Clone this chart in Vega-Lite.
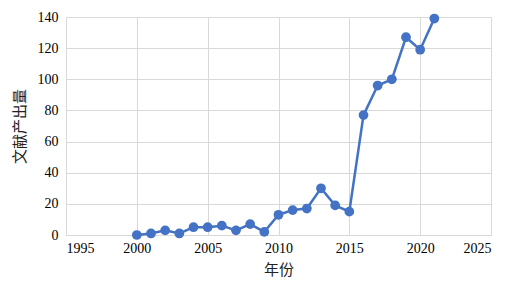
{
  "$schema": "https://vega.github.io/schema/vega-lite/v6.json",
  "autosize": "none",
  "width": 425,
  "height": 218,
  "padding": {"left": 66, "top": 17, "right": 28, "bottom": 54},
  "background": "white",
  "data": {"values": [
    {"year": 2000, "count": 0},
    {"year": 2001, "count": 1},
    {"year": 2002, "count": 3},
    {"year": 2003, "count": 1},
    {"year": 2004, "count": 5},
    {"year": 2005, "count": 5},
    {"year": 2006, "count": 6},
    {"year": 2007, "count": 3},
    {"year": 2008, "count": 7},
    {"year": 2009, "count": 2},
    {"year": 2010, "count": 13},
    {"year": 2011, "count": 16},
    {"year": 2012, "count": 17},
    {"year": 2013, "count": 30},
    {"year": 2014, "count": 19},
    {"year": 2015, "count": 15},
    {"year": 2016, "count": 77},
    {"year": 2017, "count": 96},
    {"year": 2018, "count": 100},
    {"year": 2019, "count": 127},
    {"year": 2020, "count": 119},
    {"year": 2021, "count": 139}
  ]},
  "mark": {"type": "line", "color": "#4472C4", "strokeWidth": 2.5, "point": {"filled": true, "size": 95, "color": "#4472C4", "opacity": 1}},
  "encoding": {
    "x": {"field": "year", "type": "quantitative", "title": "年份",
      "scale": {"domain": [1995, 2025], "nice": false, "zero": false},
      "axis": {"values": [1995, 2000, 2005, 2010, 2015, 2020, 2025], "format": "d", "ticks": false, "labelPadding": 6, "titlePadding": 7}},
    "y": {"field": "count", "type": "quantitative", "title": "文献产出量",
      "scale": {"domain": [0, 140], "nice": false},
      "axis": {"values": [0, 20, 40, 60, 80, 100, 120, 140], "ticks": false, "labelPadding": 8, "titlePadding": 10, "domain": false}}
  },
  "config": {
    "view": {"stroke": null},
    "axis": {
      "labelFont": "Times New Roman, Liberation Serif, DejaVu Serif, serif",
      "labelFontSize": 14,
      "labelColor": "#000000",
      "titleFont": "Times New Roman, Liberation Serif, Noto Sans CJK SC, serif",
      "titleFontSize": 15,
      "titleFontWeight": "normal",
      "titleColor": "#222222",
      "gridColor": "#d9d9d9",
      "gridWidth": 1,
      "domainColor": "#d9d9d9"
    }
  }
}
